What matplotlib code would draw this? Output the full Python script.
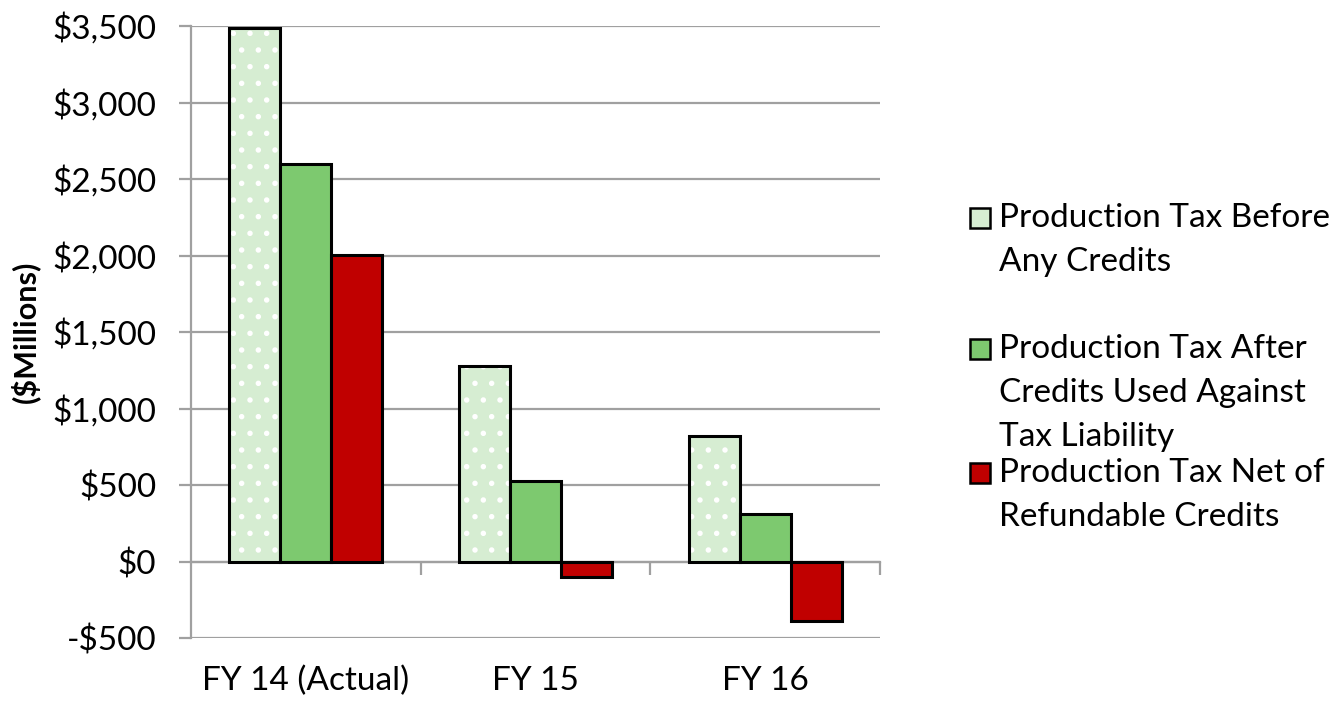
import matplotlib
matplotlib.use("Agg")
import matplotlib.pyplot as plt
import matplotlib.ticker as mticker
from matplotlib.patches import Rectangle
import numpy as np

categories = ["FY 14 (Actual)", "FY 15", "FY 16"]
before_credits = [3490, 1275, 820]
after_credits = [2600, 525, 310]
net_refundable = [2005, -100, -390]
series_labels = ["Production Tax Before\nAny Credits",
                 "Production Tax After\nCredits Used Against\nTax Liability",
                 "Production Tax Net of\nRefundable Credits"]

plt.rcParams['font.family'] = ['Lato', 'DejaVu Sans']
plt.rcParams['hatch.linewidth'] = 1.5

light = "#D6EDD2"
mid = "#7DC96F"
red = "#C00000"
grid_c = "#A0A0A0"
colors = [light, mid, red]

W, H = 1339, 701
fig = plt.figure(figsize=(W / 100, H / 100), dpi=100)
ax = fig.add_axes([191 / W, 1 - 638 / H, (880 - 191) / W, (638 - 26) / H])

x = np.arange(len(categories))
w = 0.222

# dotted light bar: fill, white dots, black outline
ax.bar(x - w, before_credits, w, color=light, edgecolor="none", zorder=3)
ax.bar(x - w, before_credits, w, fill=False, edgecolor="white", hatch=".",
       linewidth=0, zorder=3)
ax.bar(x - w, before_credits, w, fill=False, edgecolor="black", linewidth=2.2, zorder=4)
ax.bar(x, after_credits, w, color=mid, edgecolor="black", linewidth=2.2, zorder=4)
ax.bar(x + w, net_refundable, w, color=red, edgecolor="black", linewidth=2.2, zorder=4)

ax.set_xlim(-0.5, 2.5)
ax.set_ylim(-500, 3500)
ax.yaxis.set_major_locator(mticker.MultipleLocator(500))
ax.yaxis.set_major_formatter(mticker.FuncFormatter(
    lambda v, p: ("-$" if v < 0 else "$") + format(int(abs(v)), ",")))
ax.grid(axis="y", color=grid_c, linewidth=1.6, zorder=0)
for s in ["top", "right", "bottom"]:
    ax.spines[s].set_visible(False)
ax.spines["left"].set_color(grid_c)
ax.spines["left"].set_linewidth(1.6)
ax.tick_params(axis="y", length=9, width=1.6, color=grid_c, labelsize=24, pad=16)
ax.set_xticks(x)
ax.set_xticklabels(categories)
ax.tick_params(axis="x", length=0, labelsize=24, pad=20)
ax.set_ylabel("($Millions)", fontsize=22, fontweight="bold")
ax.yaxis.set_label_coords(-0.219, 0.5)

# zero line with category boundary ticks
sec = ax.secondary_xaxis(0.125)
sec.set_xticks([0.5, 1.5, 2.5])
sec.set_xticklabels([])
sec.tick_params(length=9, width=1.6, color=grid_c, direction="out")
sec.spines["bottom"].set_color(grid_c)
sec.spines["bottom"].set_linewidth(1.6)
for s in ["top", "left", "right"]:
    if s in sec.spines:
        sec.spines[s].set_visible(False)

# legend drawn by hand so the swatch sits on the first text line
first_line_y = [218, 349, 473]
line_gap = 44
for col, lab, yc in zip(colors, series_labels, first_line_y):
    fig.add_artist(Rectangle((970 / W, 1 - (yc + 10) / H), 20 / W, 20 / H,
                             transform=fig.transFigure, facecolor=col,
                             edgecolor="black", linewidth=1.8))
    for i, line in enumerate(lab.split("\n")):
        fig.text(999 / W, 1 - (yc + i * line_gap) / H, line, fontsize=24,
                 va="center", ha="left")

fig.savefig("out.png", dpi=100)
